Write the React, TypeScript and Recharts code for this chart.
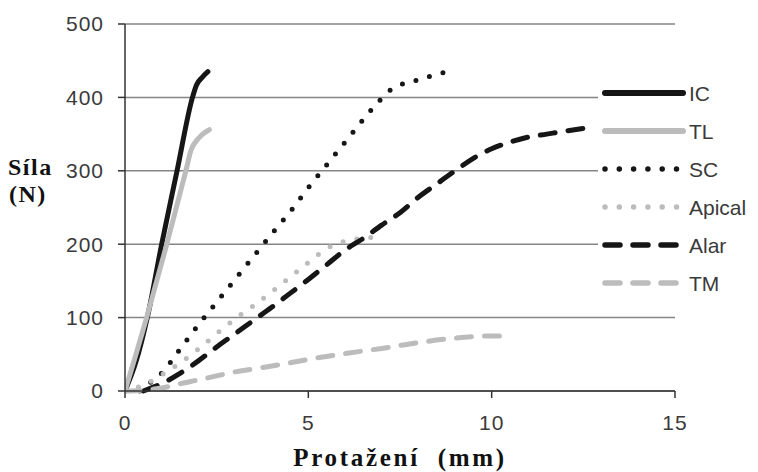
import React from "react";
import { LineChart, Line, XAxis, YAxis, CartesianGrid, Legend } from "recharts";

type pointType = { x: number; y: number };

const icData: pointType[] = [
  { x: 0, y: 0 }, { x: 0.3, y: 40 }, { x: 0.63, y: 105 }, { x: 1.0, y: 200 },
  { x: 1.42, y: 300 }, { x: 1.84, y: 400 }, { x: 1.95, y: 417 }, { x: 2.1, y: 427 },
  { x: 2.26, y: 435 },
];
const tlData: pointType[] = [
  { x: 0, y: 0 }, { x: 0.3, y: 50 }, { x: 0.59, y: 100 }, { x: 1.14, y: 200 },
  { x: 1.66, y: 300 }, { x: 1.8, y: 328 }, { x: 2.0, y: 344 }, { x: 2.3, y: 356 },
];
const scData: pointType[] = [
  { x: 0.4, y: 0 }, { x: 0.73, y: 13 }, { x: 1.03, y: 26 }, { x: 1.5, y: 57 },
  { x: 2, y: 90 }, { x: 2.5, y: 121 }, { x: 3, y: 152 }, { x: 3.5, y: 183 },
  { x: 4, y: 214 }, { x: 4.5, y: 244 }, { x: 5, y: 277 }, { x: 5.5, y: 308 },
  { x: 6, y: 339 }, { x: 6.5, y: 370 }, { x: 6.95, y: 396 }, { x: 7.24, y: 410 },
  { x: 7.6, y: 419 }, { x: 8, y: 424 }, { x: 8.4, y: 430 }, { x: 8.72, y: 434 },
];
const apicalData: pointType[] = [
  { x: 0, y: 0 }, { x: 0.5, y: 8 }, { x: 1, y: 22 }, { x: 1.5, y: 38 },
  { x: 2, y: 57 }, { x: 2.5, y: 78 }, { x: 3, y: 98 }, { x: 3.5, y: 116 },
  { x: 4, y: 135 }, { x: 4.5, y: 155 }, { x: 5, y: 175 }, { x: 5.5, y: 194 },
  { x: 6, y: 204 }, { x: 6.5, y: 208 }, { x: 6.9, y: 210 },
];
const alarData: pointType[] = [
  { x: 0.5, y: 0 }, { x: 1, y: 10 }, { x: 1.5, y: 24 }, { x: 2, y: 41 },
  { x: 2.5, y: 60 }, { x: 3, y: 78 }, { x: 3.5, y: 96 }, { x: 4, y: 114 },
  { x: 4.5, y: 133 }, { x: 5, y: 152 }, { x: 5.5, y: 172 }, { x: 6, y: 192 },
  { x: 6.5, y: 208 }, { x: 7, y: 226 }, { x: 7.5, y: 243 }, { x: 8, y: 264 },
  { x: 8.5, y: 282 }, { x: 9, y: 300 }, { x: 9.5, y: 317 }, { x: 10, y: 330 },
  { x: 10.5, y: 339 }, { x: 11, y: 346 }, { x: 11.5, y: 350 }, { x: 12, y: 354 },
  { x: 12.8, y: 360 },
];
const tmData: pointType[] = [
  { x: 0, y: 0 }, { x: 0.7, y: 2 }, { x: 1, y: 4 }, { x: 1.5, y: 10 },
  { x: 2, y: 15 }, { x: 3, y: 26 }, { x: 4, y: 34 }, { x: 5, y: 43 },
  { x: 6, y: 51 }, { x: 7, y: 58 }, { x: 8, y: 66 }, { x: 9, y: 72 },
  { x: 9.5, y: 74 }, { x: 10, y: 75 }, { x: 10.5, y: 75 },
];

const xTicks = [0, 5, 10, 15];
const yTicks = [0, 100, 200, 300, 400, 500];

const BLACK = "#161616";
const GRAY = "#bcbcbc";

const series = [
  { name: "IC", data: icData, color: BLACK, dash: undefined },
  { name: "TL", data: tlData, color: GRAY, dash: undefined },
  { name: "SC", data: scData, color: BLACK, dash: "0 14" },
  { name: "Apical", data: apicalData, color: GRAY, dash: "0 14" },
  { name: "Alar", data: alarData, color: BLACK, dash: "15 13" },
  { name: "TM", data: tmData, color: GRAY, dash: "15 13" },
];

const sansFont = "Liberation Sans, Arial, sans-serif";
const serifFont = "Liberation Serif, Times New Roman, serif";
const tickStyle = { fontFamily: sansFont, fontSize: 21, fill: "#3a3a3a", letterSpacing: 1 };

const LegendBox = () => (
  <svg width={160} height={225}>
    {series.map((s, i) => {
      const y = 15 + i * 38;
      return (
        <g key={s.name}>
          <line
            x1={7}
            x2={85}
            y1={y}
            y2={y}
            stroke={s.color}
            strokeWidth={s.dash ? 5.5 : 6}
            strokeDasharray={s.dash === "0 14" ? "0 14.3" : s.dash}
            strokeLinecap="round"
          />
          <text x={91} y={y + 7.5} fontFamily={sansFont} fontSize={21} fill="#3a3a3a">
            {s.name}
          </text>
        </g>
      );
    })}
  </svg>
);

// two-line y title, drawn left of the tick labels
const YTitle = () => (
  <g fontFamily={serifFont} fontWeight="bold" fontSize={24} fill="#111" letterSpacing={1.5}>
    <text x={8} y={175}>Síla</text>
    <text x={9} y={202}>(N)</text>
  </g>
);

const XTitle = () => (
  <text
    x={400}
    y={466}
    textAnchor="middle"
    fontFamily={serifFont}
    fontWeight="bold"
    fontSize={25}
    letterSpacing={2.7}
    fill="#111"
    style={{ whiteSpace: "pre" }}
  >
    Protažení  (mm)
  </text>
);

const App = () => {
  return (
    <div style={{ position: "absolute", left: 0, top: 0, background: "#fff" }}>
      <LineChart
        width={758}
        height={472}
        margin={{ top: 24, right: 83, bottom: 31, left: 65 }}
      >
        <CartesianGrid vertical={false} stroke="#858585" strokeWidth={1.5} />
        <XAxis
          dataKey="x"
          type="number"
          domain={[0, 15]}
          ticks={xTicks}
          allowDataOverflow
          height={50}
          stroke="#333"
          strokeWidth={1.5}
          tickSize={7}
          tickMargin={17}
          tick={tickStyle}
          label={<XTitle />}
        />
        <YAxis
          type="number"
          domain={[0, 500]}
          ticks={yTicks}
          width={60}
          stroke="#333"
          strokeWidth={1.5}
          tickSize={7}
          tickMargin={14}
          tick={tickStyle}
          label={<YTitle />}
        />
        {series.map((s) => (
          <Line
            key={s.name}
            data={s.data}
            dataKey="y"
            name={s.name}
            type="monotone"
            stroke={s.color}
            strokeWidth={5}
            strokeDasharray={s.dash}
            strokeLinecap="round"
            dot={false}
            activeDot={false}
            isAnimationActive={false}
          />
        ))}
        <Legend
          layout="vertical"
          align="center"
          verticalAlign="middle"
          content={() => <LegendBox />}
          wrapperStyle={{ left: 598, top: 78, width: 160, height: 225, background: "#fff" }}
        />
      </LineChart>
    </div>
  );
};

export default App;
